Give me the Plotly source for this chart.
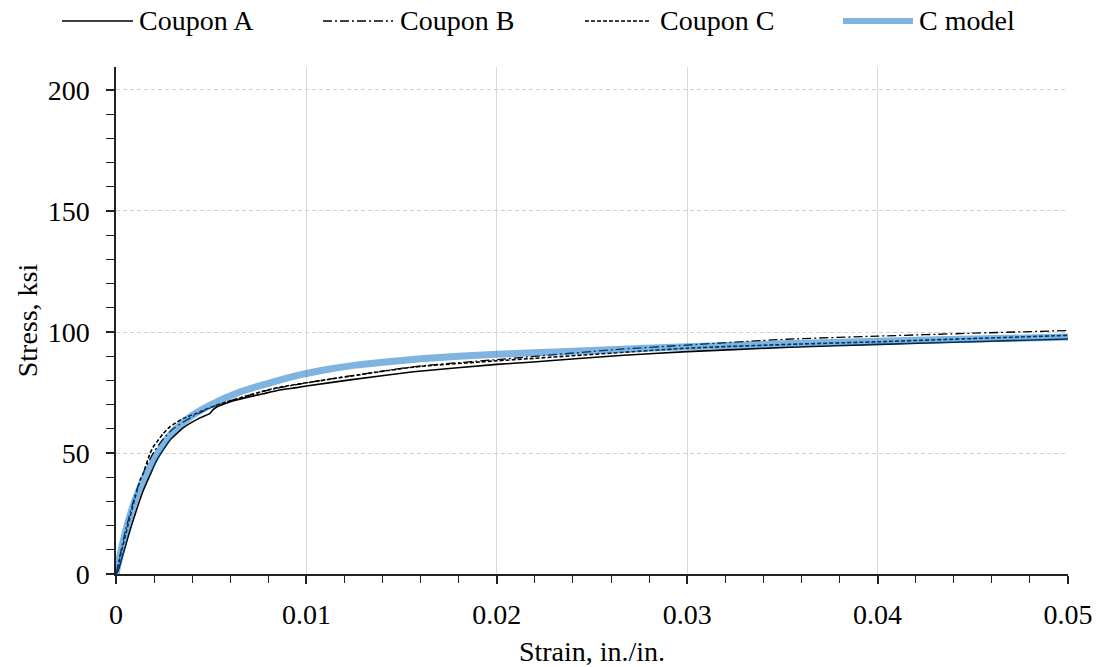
import plotly.graph_objects as go

# ---- data ----
strain_a = [0, 0.00012, 0.00074, 0.00144, 0.00179, 0.00214, 0.00284, 0.00354, 0.00441, 0.00494, 0.0051, 0.00529,
            0.00616, 0.00704, 0.00774, 0.00861, 0.00949, 0.01, 0.01229, 0.01562, 0.02, 0.02174, 0.02647, 0.03,
            0.0354, 0.04013, 0.045, 0.05]
stress_a = [0, 1.6, 18.2, 34.7, 41.0, 47.1, 55.4, 60.5, 64.5, 66.4, 67.9, 69.0,
            71.6, 73.3, 74.5, 76.0, 77.0, 77.7, 80.2, 83.6, 86.6, 87.5, 90.3, 91.9,
            93.7, 94.9, 96.0, 97.1]

strain_b = [0, 0.0005, 0.001, 0.0015, 0.002, 0.0025, 0.003, 0.004, 0.005, 0.006, 0.008, 0.01, 0.0156, 0.02,
            0.0265, 0.03, 0.0352, 0.04, 0.045, 0.05]
stress_b = [0, 18.0, 32.5, 43.0, 50.5, 56.0, 60.0, 65.0, 68.8, 71.6, 76.0, 79.0, 85.6, 88.6,
            92.9, 94.6, 97.0, 98.3, 99.5, 100.6]

strain_c = [0, 0.00065, 0.00126, 0.00143, 0.00179, 0.00196, 0.00214, 0.00249, 0.00284, 0.00301, 0.00354,
            0.00424, 0.00441, 0.00529, 0.00704, 0.00774, 0.00861, 0.01, 0.01562, 0.02, 0.02174, 0.03, 0.0354,
            0.04013, 0.045, 0.05]
stress_c = [0, 20.9, 38.8, 41.5, 49.9, 52.6, 54.5, 58.1, 60.9, 61.8, 64.3,
            66.4, 67.1, 69.8, 74.0, 75.6, 77.2, 79.0, 85.5, 88.1, 89.0, 93.3, 94.9,
            96.0, 97.3, 98.6]

strain_m = [0, 0.0005, 0.001, 0.0015, 0.0018, 0.0023, 0.0028, 0.0034, 0.004, 0.005, 0.0065, 0.008, 0.0095,
            0.011, 0.0125, 0.014, 0.016, 0.018, 0.02, 0.025, 0.03, 0.035, 0.04, 0.045, 0.05]
stress_m = [0, 17.5, 30.5, 40.0, 44.3, 51.2, 57.0, 61.8, 65.5, 70.0, 75.2, 78.8, 82.0,
            84.4, 86.2, 87.5, 88.9, 90.0, 90.8, 92.4, 93.9, 95.1, 96.2, 97.1, 97.9]

names = ["Coupon A", "Coupon B", "Coupon C", "C model"]
x_ticks = [0, 0.01, 0.02, 0.03, 0.04, 0.05]
x_labels = ["0", "0.01", "0.02", "0.03", "0.04", "0.05"]
y_ticks = [0, 50, 100, 150, 200]
y_labels = ["0", "50", "100", "150", "200"]

FONT = "Liberation Serif, Times New Roman, serif"
MODEL_COLOR = "rgba(0,105,195,0.5)"
styles = [
    dict(color="black", width=1.6, dash="solid"),
    dict(color="black", width=1.3, dash="9px,3px,2px,3px"),
    dict(color="black", width=1.6, dash="4px,2px"),
    dict(color=MODEL_COLOR, width=7, dash="solid"),
]
smooth = [0.4, 0.6, 0.5, 0.8]

fig = go.Figure()
for xs, ys, nm, st, sm in zip([strain_a, strain_b, strain_c, strain_m],
                              [stress_a, stress_b, stress_c, stress_m], names, styles, smooth):
    fig.add_trace(go.Scatter(x=xs, y=ys, mode="lines", name=nm,
                             line=dict(**st, shape="spline", smoothing=sm), showlegend=False))

W, H = 1102, 667
PL, PR, PT, PB = 116, 1068, 67, 574          # plot-area edges in window pixels
L, R, T, B = PL, W - PR, PT, H - PB
pw, ph = PR - PL, PB - PT


def px(xp):
    return (xp - PL) / pw


def py(yp):
    return (PB - yp) / ph


# custom legend (line samples + text)
leg = [(62, 133, 137), (323, 393, 398), (585, 651, 658), (843, 913, 917)]
for (x0, x1, xt), nm, st in zip(leg, names, styles):
    is_model = nm == "C model"
    fig.add_shape(type="line", xref="paper", yref="paper", x0=px(x0), x1=px(x1), y0=py(21), y1=py(21),
                  line=dict(color="rgb(127,180,225)" if is_model else st["color"],
                            width=6 if is_model else st["width"], dash=st["dash"]))
    fig.add_annotation(xref="paper", yref="paper", x=px(xt), y=py(21), text=nm, showarrow=False,
                       xanchor="left", yanchor="middle", font=dict(family=FONT, size=28, color="black"))

fig.update_layout(
    width=W, height=H,
    margin=dict(l=L, r=R, t=T, b=B, pad=0),
    paper_bgcolor="white", plot_bgcolor="white",
    font=dict(family=FONT, size=28, color="black"),
    showlegend=False,
)
fig.update_xaxes(
    range=[0, 0.05], tickvals=x_ticks, ticktext=x_labels, automargin=False,
    showline=True, linecolor="#222", linewidth=1.5,
    ticks="outside", ticklen=8, tickwidth=1.5, tickcolor="#222",
    ticklabelstandoff=7,
    showgrid=True, gridcolor="#d9d9d9", gridwidth=1,
    zeroline=False,
    minor=dict(dtick=0.002, tick0=0, ticks="outside", ticklen=7, tickwidth=1.3, tickcolor="#222", showgrid=False),
    tickfont=dict(family=FONT, size=28),
    title=dict(text="Strain, in./in.", font=dict(family=FONT, size=28), standoff=12),
)
fig.update_yaxes(
    range=[0, 209.5], tickvals=y_ticks, ticktext=y_labels, automargin=False,
    showline=True, linecolor="#222", linewidth=1.5,
    ticks="outside", ticklen=8, tickwidth=1.5, tickcolor="#222",
    ticklabelstandoff=11,
    showgrid=True, gridcolor="#d0d0d0", gridwidth=1, griddash="4px,3px",
    zeroline=False,
    minor=dict(dtick=10, tick0=0, ticks="outside", ticklen=8, tickwidth=1.3, tickcolor="#222", showgrid=False),
    tickfont=dict(family=FONT, size=28),
    title=dict(text="Stress, ksi", font=dict(family=FONT, size=28), standoff=2),
)

# remove the default 8 px body margin so the figure fills the window exactly
fig.write_html("out.html", config={"displayModeBar": False},
               post_script="document.body.style.margin='0';document.body.style.overflow='hidden';")
